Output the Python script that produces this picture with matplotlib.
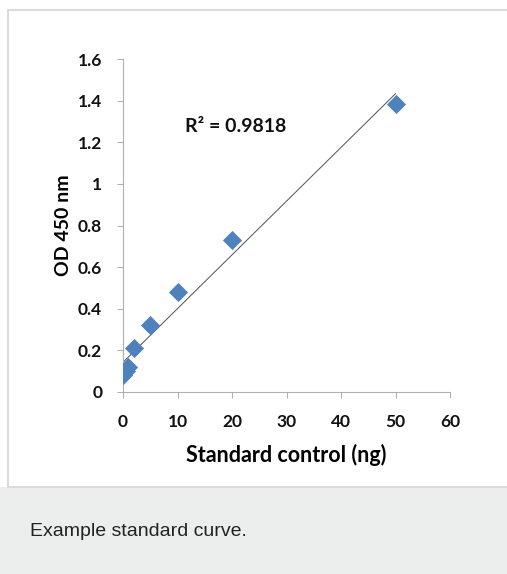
import numpy as np
import matplotlib.pyplot as plt
from matplotlib.patches import Rectangle

# standard curve data
conc_ng = np.array([0, 0.5, 1, 2, 5, 10, 20, 50])
od_450 = np.array([0.08, 0.10, 0.12, 0.21, 0.32, 0.48, 0.73, 1.385])
r2_label = 'R² = 0.9818'
x_ticks = [0, 10, 20, 30, 40, 50, 60]
y_ticks = [0, 0.2, 0.4, 0.6, 0.8, 1, 1.2, 1.4, 1.6]
y_tick_labels = ['0', '0.2', '0.4', '0.6', '0.8', '1', '1.2', '1.4', '1.6']

fig = plt.figure(figsize=(5.07, 5.74), dpi=100)

# caption panel and frame
fig.patches.append(Rectangle((0, 0), 1, 87/574, transform=fig.transFigure,
                             facecolor='#eceeed', edgecolor='none', zorder=-2))
fig.patches.append(Rectangle((8/507, 87/574), 1.0, (574-10-87)/574, transform=fig.transFigure,
                             facecolor='white', edgecolor='#dcdcdc', lw=1.5, zorder=-1))
fig.text(30/507, 1-531/574, 'Example standard curve.', fontsize=14, family='Liberation Sans',
         color='#222222', va='center')

ax = fig.add_axes([123/507, 1-392/574, 327/507, 333/574])
ax.set_zorder(2)
ax.patch.set_alpha(0)

slope, intercept = np.polyfit(conc_ng, od_450, 1)
fit_x = np.array([conc_ng.min(), conc_ng.max()])
ax.plot(fit_x, slope*fit_x + intercept, color='#505050', lw=0.7, zorder=2)
ax.scatter(conc_ng, od_450, marker='D', s=95, color='#4f81bd', zorder=3, linewidths=0)

ax.set_xlim(0, 60)
ax.set_ylim(0, 1.6)
ax.set_xticks(x_ticks)
ax.set_yticks(y_ticks)
ax.set_yticklabels(y_tick_labels)
for s in ['top', 'right']:
    ax.spines[s].set_visible(False)
for s in ['left', 'bottom']:
    ax.spines[s].set_color('#b0b0b0')
ax.tick_params(colors='#b0b0b0', labelcolor='#111111', length=4)
ax.tick_params(axis='y', pad=11)
ax.tick_params(axis='x', pad=12)
for lab in ax.get_xticklabels() + ax.get_yticklabels():
    lab.set_fontweight('bold')
    lab.set_fontsize(12.5)
    lab.set_family('Lato')

ax.set_xlabel('Standard control (ng)', fontsize=15.5, fontweight='bold', family='Lato', labelpad=10)
ax.set_ylabel('OD 450 nm', fontsize=14, fontweight='bold', family='Lato', labelpad=4)
ax.text(11.4, 1.274, r2_label, fontsize=14, fontweight='bold', family='Lato', color='#111111',
        va='center')

fig.savefig('out.png', dpi=100)
